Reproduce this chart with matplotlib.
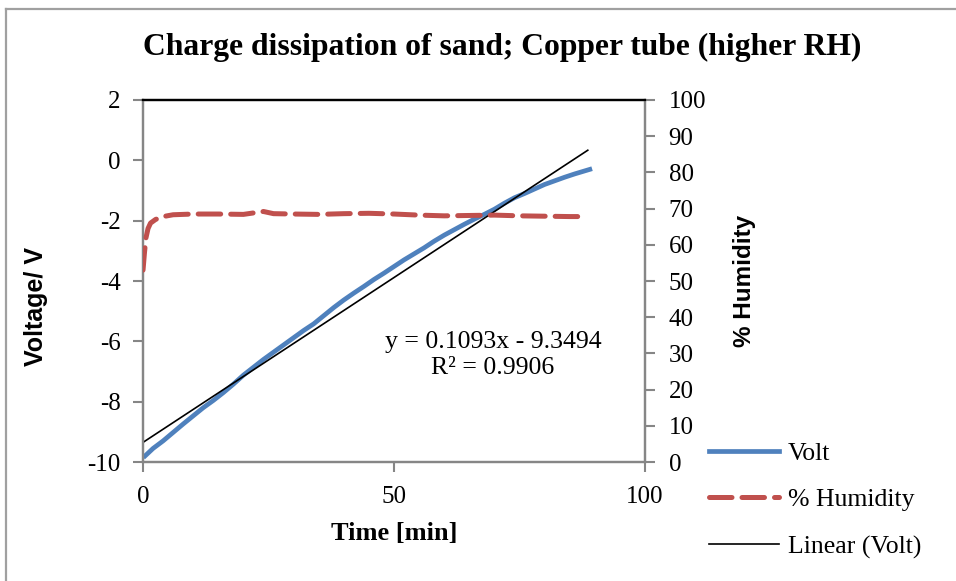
import matplotlib
matplotlib.use("Agg")
import matplotlib.pyplot as plt
from matplotlib.lines import Line2D

# Voltage readings (V) against time (min)
time_v = [0.4, 2, 4, 6, 8, 10, 12, 14, 16, 18, 20, 22, 24, 26, 28, 30, 32, 34, 36, 38,
          40, 42, 44, 46, 48, 50, 52, 54, 56, 58, 60, 62, 64, 66, 68, 70, 72, 74, 76, 78,
          80, 82, 84, 86, 88, 89]
volt = [-9.8, -9.55, -9.3, -9.02, -8.74, -8.47, -8.2, -7.96, -7.7, -7.42, -7.12, -6.86,
        -6.6, -6.36, -6.12, -5.88, -5.64, -5.42, -5.15, -4.88, -4.63, -4.4, -4.18, -3.95,
        -3.74, -3.52, -3.3, -3.1, -2.9, -2.68, -2.48, -2.3, -2.12, -1.95, -1.79, -1.62,
        -1.42, -1.24, -1.1, -0.95, -0.8, -0.68, -0.56, -0.45, -0.35, -0.3]

# Relative humidity (%) against time (min)
time_h = [0, 0.3, 0.6, 1, 1.5, 2.5, 4, 6, 10, 15, 20, 24, 26, 30, 35, 40, 45, 50, 55,
          60, 65, 70, 75, 80, 85, 88]
humidity = [53, 58, 62, 64.5, 66, 67, 67.8, 68.3, 68.5, 68.5, 68.4, 69.2, 68.6, 68.5,
            68.4, 68.6, 68.7, 68.5, 68.2, 68.0, 68.1, 68.2, 68.0, 67.9, 67.8, 67.8]

# Linear trend of the voltage
slope, intercept, r2 = 0.1093, -9.3494, 0.9906
trend_x = [0, 88.6]

x_ticks = [0, 50, 100]
v_ticks = [-10, -8, -6, -4, -2, 0, 2]
h_ticks = list(range(0, 101, 10))

serif = "Liberation Serif"
sans = "Liberation Sans"
grey = "#868686"
fs = 18.5

fig = plt.figure(figsize=(9.56, 5.81), dpi=100)
ax = fig.add_axes([0.1496, 0.2048, 0.5251, 0.6231])
ax2 = ax.twinx()

l_volt, = ax.plot(time_v, volt, color="#4f81bd", lw=3.4, zorder=3)
l_fit, = ax.plot(trend_x, [slope * t + intercept for t in trend_x], color="black",
                 lw=1.2, zorder=4)
l_hum, = ax2.plot(time_h, humidity, color="#c0504d", lw=3.6, ls=(0, (4.5, 2)),
                  dash_capstyle="round", zorder=3)

ax.set_xlim(0, 100)
ax.set_ylim(-10, 2)
ax2.set_ylim(0, 100)
ax.set_xticks(x_ticks)
ax.set_yticks(v_ticks)
ax2.set_yticks(h_ticks)
ax.set_xticklabels([str(t) for t in x_ticks], fontfamily=serif, fontsize=18)
ax.set_yticklabels([str(t) for t in v_ticks], fontfamily=serif, fontsize=18)
ax2.set_yticklabels([str(t) for t in h_ticks], fontfamily=serif, fontsize=18)

for a in (ax, ax2):
    for s in ("left", "right", "bottom"):
        a.spines[s].set_color(grey)
        a.spines[s].set_linewidth(1.6)
    a.spines["top"].set_color("black")
    a.spines["top"].set_linewidth(1.6)
ax.tick_params(axis="both", direction="out", length=7, width=1.5, color=grey, pad=9)
ax2.tick_params(axis="y", direction="out", length=7, width=1.5, color=grey, pad=10)
ax.tick_params(axis="x", pad=10)

ax.set_ylabel("Voltage/ V", fontfamily=sans, fontweight="bold", fontsize=18)
ax.yaxis.set_label_coords(-0.19, 0.43)
ax2.set_ylabel("% Humidity", fontfamily=sans, fontweight="bold", fontsize=17.5,
               rotation=90)
ax2.yaxis.set_label_coords(1.175, 0.50)
ax.set_xlabel("Time [min]", fontfamily=serif, fontweight="bold", fontsize=19)
ax.xaxis.set_label_coords(0.5, -0.165)

ax.text(69.7, -6.02, f"y = {slope}x - {abs(intercept)}", fontfamily=serif,
        fontsize=fs, ha="center", va="center")
ax.text(69.7, -6.88, f"R² = {r2}", fontfamily=serif, fontsize=fs,
        ha="center", va="center")

fig.text(0.525, 0.918, "Charge dissipation of sand; Copper tube (higher RH)",
         fontfamily=serif, fontweight="bold", fontsize=22.8, ha="center", va="center")

leg = fig.legend([l_volt, l_hum, l_fit], ["Volt", "% Humidity", "Linear (Volt)"],
                 loc="upper left", bbox_to_anchor=(0.742, 0.240), frameon=False,
                 prop={"family": serif, "size": fs}, handlelength=2.7,
                 handletextpad=0.35, labelspacing=0.93, borderpad=0, borderaxespad=0)

# outer chart border (top and left edges visible)
fig.add_artist(Line2D([0.0063, 0.0063], [0, 0.9845], color="#a0a0a0", lw=1.6,
                      transform=fig.transFigure))
fig.add_artist(Line2D([0.0063, 1], [0.9845, 0.9845], color="#a0a0a0", lw=1.6,
                      transform=fig.transFigure))

fig.savefig("out.png", dpi=100)
